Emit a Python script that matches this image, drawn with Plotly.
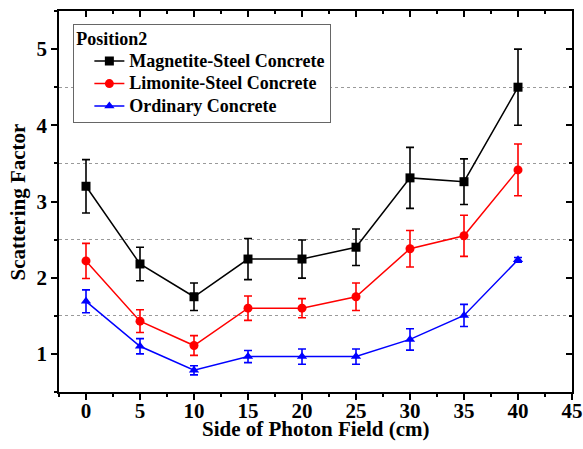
import plotly.graph_objects as go

x_field = [0, 5, 10, 15, 20, 25, 30, 35, 40]

magnetite = [3.20, 2.18, 1.75, 2.245, 2.245, 2.40, 3.31, 3.26, 4.50]
magnetite_err = [0.35, 0.22, 0.18, 0.27, 0.25, 0.24, 0.40, 0.30, 0.50]

limonite = [2.22, 1.43, 1.11, 1.60, 1.60, 1.75, 2.38, 2.55, 3.415]
limonite_err = [0.23, 0.15, 0.13, 0.16, 0.125, 0.18, 0.24, 0.27, 0.34]

ordinary = [1.69, 1.10, 0.785, 0.965, 0.965, 0.965, 1.19, 1.505, 2.235]
ordinary_err = [0.15, 0.10, 0.06, 0.08, 0.10, 0.10, 0.14, 0.145, 0.03]

names = ["Magnetite-Steel Concrete", "Limonite-Steel Concrete", "Ordinary Concrete"]
colors = ["#000000", "#ff0000", "#0000ff"]
symbols = ["square", "circle", "triangle-up"]
series = [magnetite, limonite, ordinary]
errors = [magnetite_err, limonite_err, ordinary_err]

x_title = "Side of Photon Field (cm)"
y_title = "Scattering Factor"
legend_title = "Position2"

FONT = "Liberation Serif, Times New Roman, DejaVu Serif, serif"
LEG_SPAN = '<span style="font-size:18px">{}</span>'

fig = go.Figure()
for name, col, sym, ys, es in zip(names, colors, symbols, series, errors):
    fig.add_trace(go.Scatter(
        x=x_field, y=ys, name=LEG_SPAN.format(name), mode="lines+markers",
        line=dict(color=col, width=1.5),
        marker=dict(symbol=sym, size=9, color=col),
        error_y=dict(type="data", array=es, visible=True, color=col,
                     thickness=1.6, width=4),
    ))

# invisible helper trace for the mirrored (top/right) axes
fig.add_trace(go.Scatter(x=[], y=[], xaxis="x2", yaxis="y2", showlegend=False,
                         hoverinfo="skip"))

axis_common = dict(showline=True, linecolor="black", linewidth=1.5,
                   zeroline=False, showgrid=False, automargin=False)

fig.update_layout(
    width=583, height=449,
    margin=dict(l=59, r=11, t=11, b=57),
    paper_bgcolor="white", plot_bgcolor="white",
    font=dict(family=FONT, size=21, color="black", weight="bold"),
    xaxis=dict(**axis_common, range=[-2.5, 45], tick0=0, dtick=5,
               ticks="outside", ticklen=6, tickwidth=1.5, tickcolor="black",
               ticklabelstandoff=-7,
               minor=dict(dtick=2.5, tick0=0, ticks="outside", ticklen=3,
                          tickwidth=1.5, tickcolor="black"),
               tickfont=dict(size=21, family=FONT, weight="bold")),
    yaxis=dict(**axis_common, range=[0.5, 5.5], tick0=0, dtick=1,
               ticks="outside", ticklen=6, tickwidth=1.5, tickcolor="black",
               minor=dict(dtick=0.5, tick0=0, ticks="outside", ticklen=3,
                          tickwidth=1.5, tickcolor="black", showgrid=True,
                          gridcolor="#9a9a9a", griddash="dot", gridwidth=1),
               tickfont=dict(size=21, family=FONT, weight="bold")),
    xaxis2=dict(**axis_common, overlaying="x", matches="x", side="top",
                anchor="y2", range=[-2.5, 45], tick0=0, dtick=5,
                ticks="inside", ticklen=6, tickwidth=1.5, tickcolor="black",
                minor=dict(dtick=2.5, tick0=0, ticks="inside", ticklen=3,
                           tickwidth=1.5, tickcolor="black"),
                showticklabels=False),
    yaxis2=dict(**axis_common, overlaying="y", matches="y", side="right",
                anchor="x2", range=[0.5, 5.5], tick0=0, dtick=1,
                ticks="inside", ticklen=6, tickwidth=1.5, tickcolor="black",
                minor=dict(dtick=0.5, tick0=0, ticks="inside", ticklen=3,
                           tickwidth=1.5, tickcolor="black"),
                showticklabels=False),
    legend=dict(x=0.028, y=0.965, xanchor="left", yanchor="top",
                bgcolor="white", bordercolor="#666666", borderwidth=1,
                font=dict(size=15, family=FONT, weight="bold"),
                title=dict(text=LEG_SPAN.format(legend_title),
                           font=dict(size=15, family=FONT, weight="bold")),
                tracegroupgap=0, itemwidth=30, indentation=15),
    showlegend=True,
    annotations=[
        dict(text=x_title, xref="paper", yref="paper", x=0.5, y=-0.097,
             xanchor="center", yanchor="middle", showarrow=False,
             font=dict(size=21, family=FONT, weight="bold")),
        dict(text=y_title, xref="paper", yref="paper", x=-0.08, y=0.5,
             xanchor="center", yanchor="middle", showarrow=False,
             textangle=-90,
             font=dict(size=21, family=FONT, weight="bold")),
    ],
)

fig.write_html("out.html", config={"displayModeBar": False},
               post_script="document.body.style.margin='0';")
